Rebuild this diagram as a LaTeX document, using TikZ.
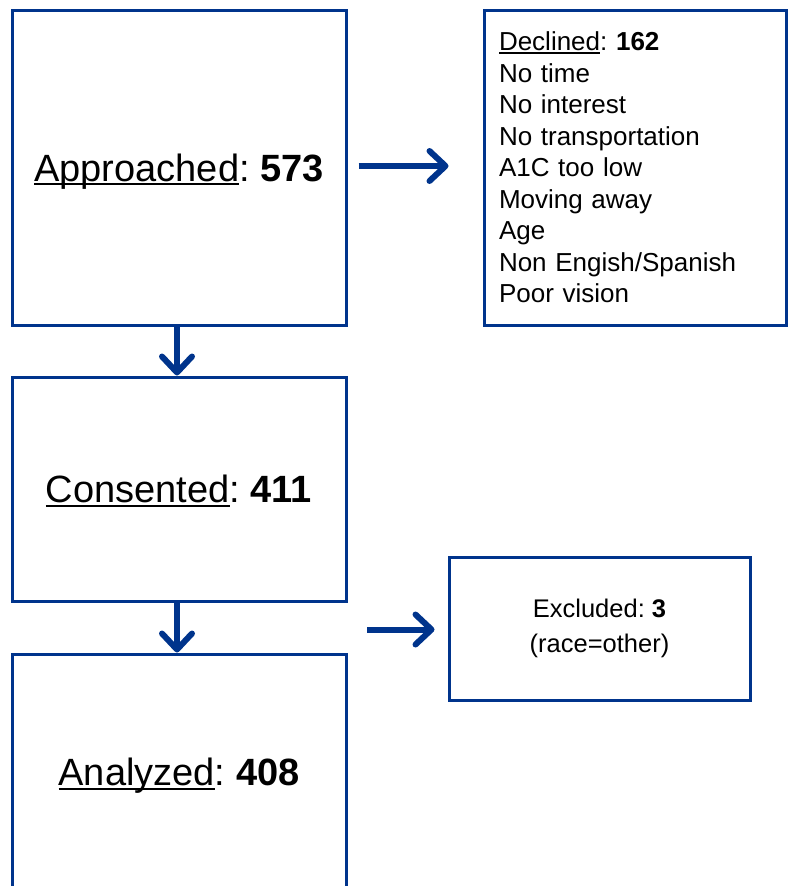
\documentclass[tikz,border=0pt]{standalone}
\usepackage{fontspec}
\setmainfont{Liberation Sans}
\usetikzlibrary{arrows.meta}
\definecolor{navy}{RGB}{0,52,140}
\frenchspacing
\newcommand{\ulword}[1]{\setbox0=\hbox{#1}\rlap{\rule[-0.11em]{\wd0}{0.055em}}\box0}
\tikzset{
  box/.style={draw=navy, line width=3pt, inner sep=0pt, align=center},
  big/.style={font=\fontsize{38}{46}\selectfont, text depth=0pt},
  arr/.style={draw=navy, line width=6pt,
    -{Straight Barb[length=16pt, width=30pt, round]}}
}
\begin{document}
\frenchspacing
\begin{tikzpicture}[x=1pt, y=-1pt]
\useasboundingbox (0,0) rectangle (788,886);
\node[box, big, minimum width=334pt, minimum height=315pt] (appr) at (179,167.5)
  {\ulword{Approached}: \textbf{573}};
\node[box, big, minimum width=334pt, minimum height=224pt] (cons) at (179,489)
  {\ulword{Consented}: \textbf{411}};
\node[box, big, minimum width=334pt, minimum height=236pt] (anal) at (179,772)
  {\ulword{Analyzed}: \textbf{408}};
\node[box, align=left, text width=272pt, minimum width=302pt, minimum height=315pt,
  font=\fontsize{26}{31.5}\selectfont] (decl) at (635,167.5)
  {\ulword{Declined}: \textbf{162}\\
   No time\\
   No interest\\
   No transportation\\
   A1C too low\\
   Moving away\\
   Age\\
   Non Engish/Spanish\\
   Poor vision};
\node[box, minimum width=301pt, minimum height=143pt,
  font=\fontsize{25.5}{35}\selectfont] (excl) at (599.5,628.5)
  {Excluded: \textbf{3}\\(race=other)};
\coordinate (exstart) at (367,629.5);
\draw[arr, shorten <=11pt, shorten >=34pt] ([yshift=1.5pt]appr.east) -- ([yshift=1.5pt]decl.west);
\draw[arr] ([xshift=-2pt]appr.south) -- ([xshift=-2pt]cons.north);
\draw[arr] ([xshift=-2pt]cons.south) -- ([xshift=-2pt]anal.north);
\draw[arr, shorten >=13pt] (exstart) -- (excl.west |- exstart);
\end{tikzpicture}
\end{document}
